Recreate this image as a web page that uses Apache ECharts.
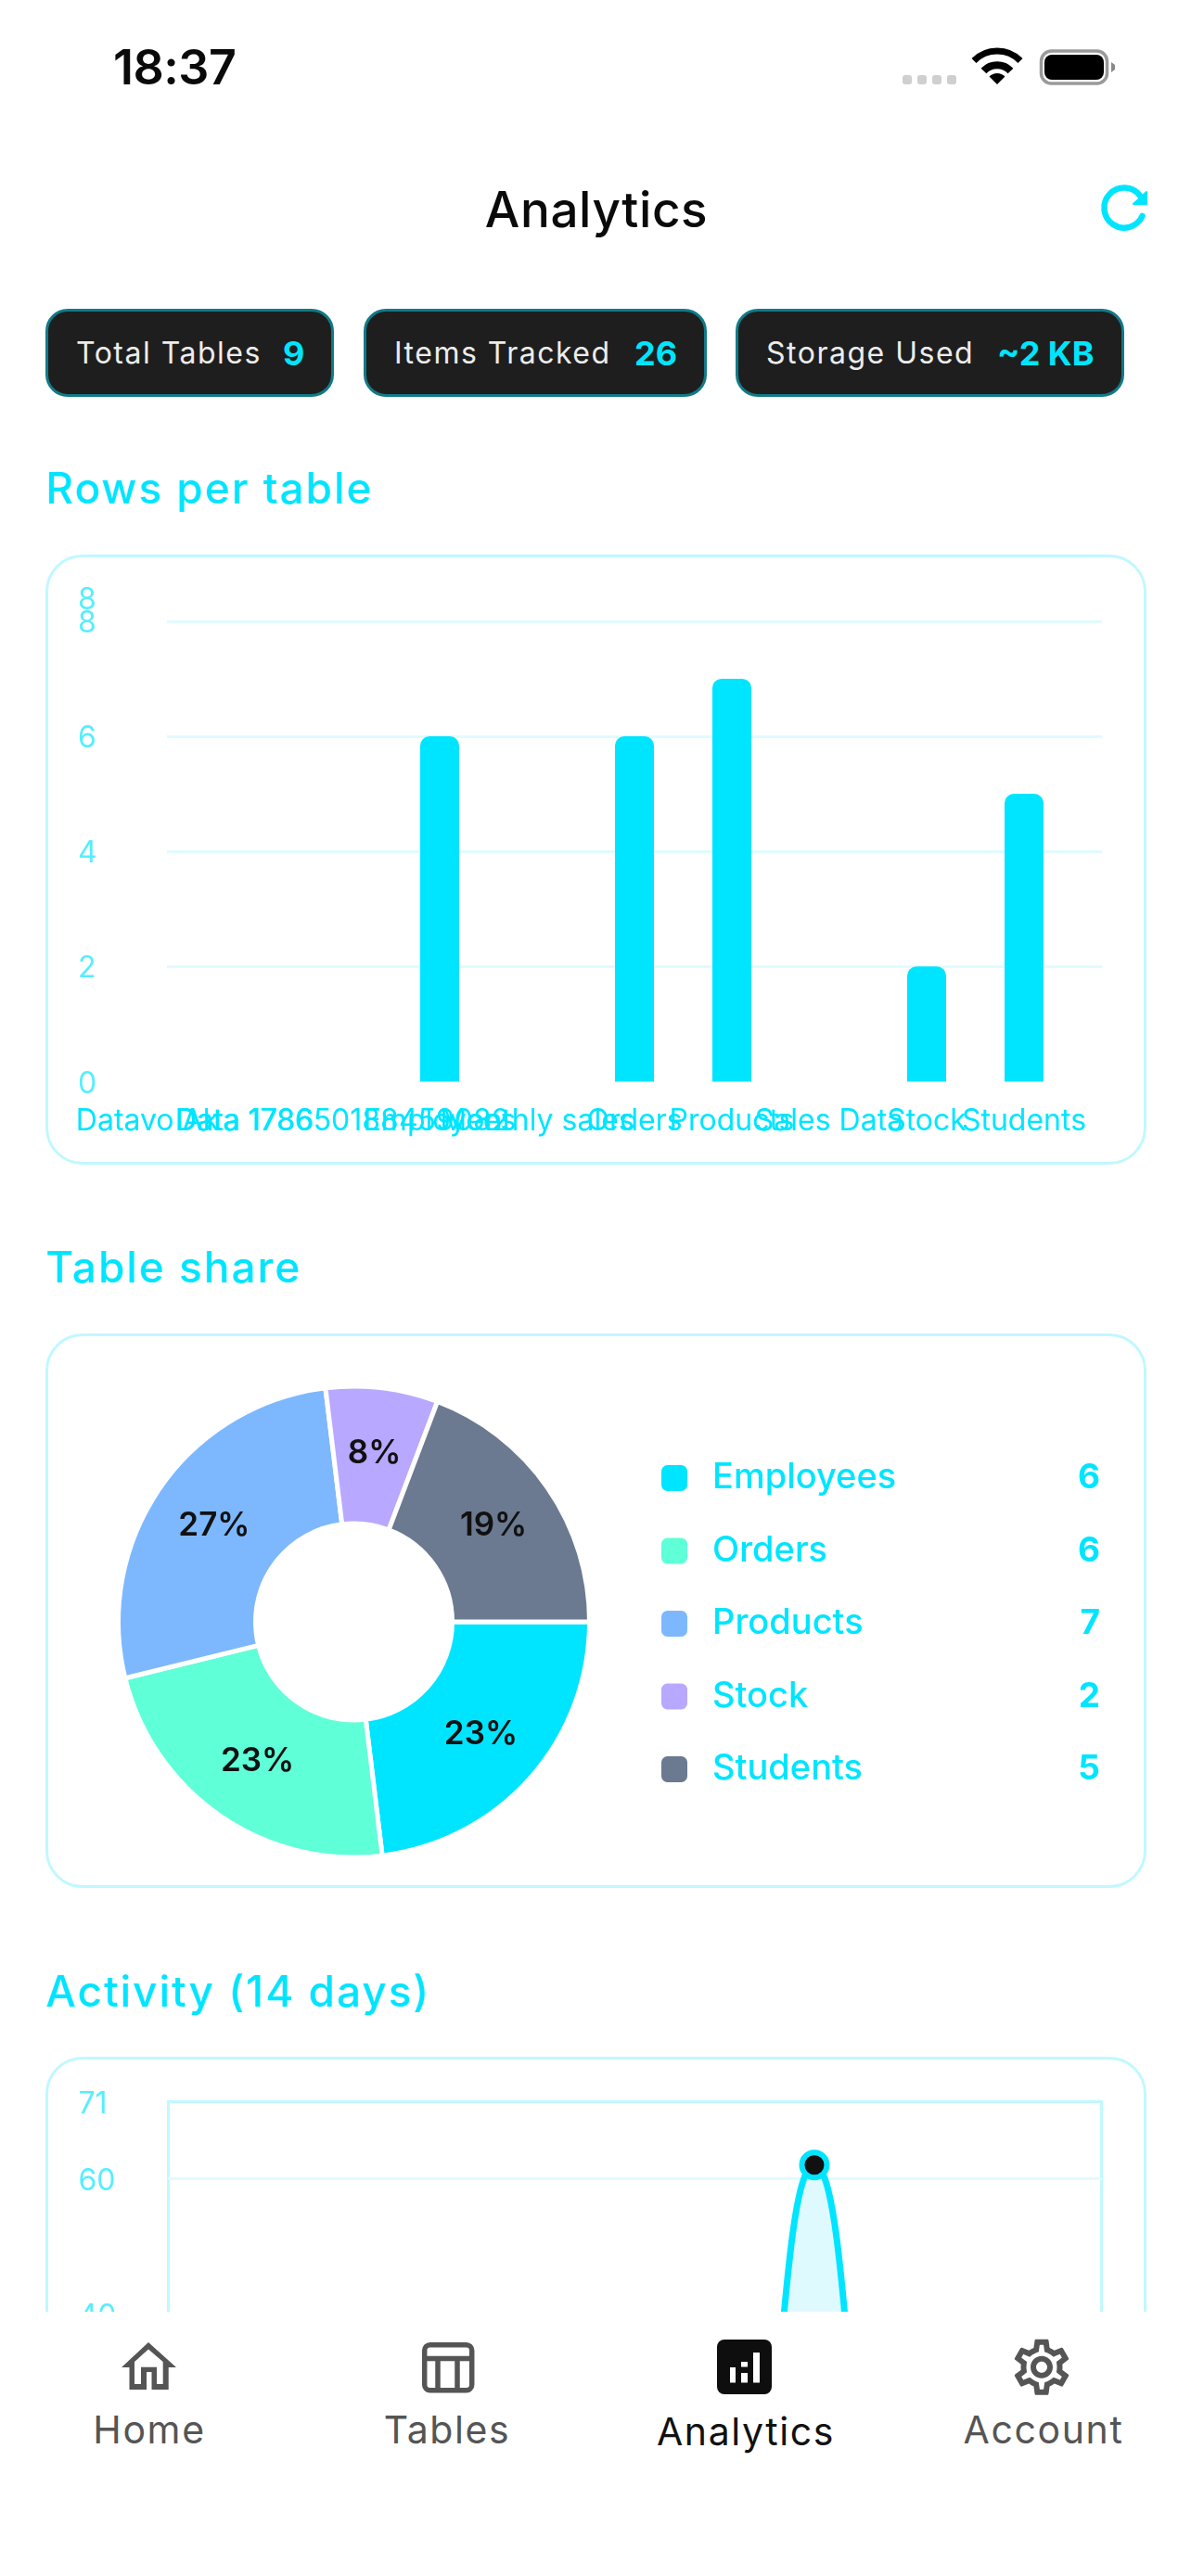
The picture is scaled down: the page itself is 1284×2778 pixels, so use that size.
<!DOCTYPE html>
<html>
<head>
<meta charset="utf-8">
<title>Analytics</title>
<script src="https://cdn.jsdelivr.net/npm/echarts@6/dist/echarts.min.js"></script>
<style>
  html, body { margin: 0; padding: 0; width: 1284px; height: 2778px; overflow: hidden; background: #fff; }
  body { position: relative; font-family: Inter, "Noto Sans", sans-serif; }
  .t { position: absolute; white-space: nowrap; }
  .chip { position: absolute; top: 333px; height: 95px; box-sizing: border-box; background: #1e1e1e; border: 3px solid #117a87; border-radius: 24px; }
  .chipLabel { font-size: 32px; line-height: 48px; top: 357px; color: #ececec; letter-spacing: 1.5px; }
  .chipValue { font-size: 36px; line-height: 48px; top: 357px; color: #00e5ff; font-weight: 700; }
  .section { left: 49px; font-size: 46px; line-height: 60px; font-weight: 500; color: #00e5ff; letter-spacing: 1.95px; }
  .card { position: absolute; left: 49px; width: 1187px; box-sizing: border-box; border: 3px solid #c0f8ff; border-radius: 40px; }
  .chart { position: absolute; left: 49px; width: 1187px; }
  #tabbar { position: absolute; left: 0; top: 2493px; width: 1284px; height: 285px; background: #fff; }
  .tab { font-size: 41px; line-height: 50px; color: #555; transform: translateX(-50%); letter-spacing: 1.6px; }
  #icons { position: absolute; left: 0; top: 0; }
</style>
</head>
<body>
  <div class="t" style="left:122px;top:43px;font-size:52px;line-height:60px;font-weight:600;color:#0a0a0a;letter-spacing:-0.5px;">18:37</div>
  <div class="t" style="left:643px;top:196px;font-size:53px;line-height:60px;font-weight:500;color:#0a0a0a;letter-spacing:0.6px;transform:translateX(-50%);">Analytics</div>

  <div class="chip" style="left:49px;width:311px;"></div>
  <div class="chip" style="left:392px;width:370px;"></div>
  <div class="chip" style="left:793px;width:419px;"></div>
  <div class="t chipLabel" style="left:82px;">Total Tables</div>
  <div class="t chipValue" style="left:305px;">9</div>
  <div class="t chipLabel" style="left:425px;">Items Tracked</div>
  <div class="t chipValue" style="left:684px;">26</div>
  <div class="t chipLabel" style="left:826px;">Storage Used</div>
  <div class="t chipValue" style="left:1075px;">~2 KB</div>

  <div class="t section" style="top:496px;">Rows per table</div>
  <div class="card" style="top:598px;height:658px;"></div>
  <div class="chart" id="barChart" style="top:598px;height:658px;"></div>

  <div class="t section" style="top:1336px;">Table share</div>
  <div class="card" style="top:1438px;height:598px;"></div>
  <div class="chart" id="pieChart" style="top:1438px;height:598px;"></div>

  <div class="t section" style="top:2117px;">Activity (14 days)</div>
  <div class="card" style="top:2218px;height:700px;"></div>
  <div class="chart" id="lineChart" style="top:2218px;height:700px;"></div>

  <div id="tabbar"></div>
  <div class="t tab" style="left:161px;top:2595px;">Home</div>
  <div class="t tab" style="left:482px;top:2595px;">Tables</div>
  <div class="t tab" style="left:804px;top:2597px;color:#111;">Analytics</div>
  <div class="t tab" style="left:1125px;top:2595px;">Account</div>

  <svg id="icons" width="1284" height="2778" viewBox="0 0 1284 2778" xmlns="http://www.w3.org/2000/svg">
    <!-- status bar -->
    <g fill="#cfcfcf">
      <rect x="973" y="81" width="10" height="10" rx="3"/>
      <rect x="989" y="81" width="10" height="10" rx="3"/>
      <rect x="1005" y="81" width="10" height="10" rx="3"/>
      <rect x="1021" y="81" width="10" height="10" rx="3"/>
    </g>
    <g fill="none" stroke="#000">
      <path d="M1050 65.5 A35 35 0 0 1 1100 65.5" stroke-width="7"/>
      <path d="M1060.5 76.5 A20 20 0 0 1 1089.5 76.5" stroke-width="8"/>
    </g>
    <path d="M1075 91 L1066.5 82.5 A12 12 0 0 1 1083.5 82.5 Z" fill="#000"/>
    <rect x="1122.5" y="55" width="71" height="35" rx="11" fill="none" stroke="#9a9a9a" stroke-width="3.5"/>
    <rect x="1126" y="59" width="64" height="27" rx="8" fill="#000"/>
    <path d="M1198 67 L1202 70 V75 L1198 78 Z" fill="#888"/>
    <!-- refresh -->
    <path d="M1231.5 233 A21.5 21.5 0 1 1 1229 211" fill="none" stroke="#00e5ff" stroke-width="6.5" stroke-linecap="round"/>
    <path d="M1236 207 V220 H1222 Z" fill="#00e5ff" stroke="#00e5ff" stroke-width="2" stroke-linejoin="round"/>
    <!-- tab icons -->
    <path fill-rule="evenodd" fill="#555" d="M160 2526 L190 2553 H181.7 V2577 H163.5 V2558 H158 V2577 H139.5 V2553 H131 Z M160 2533.5 L145 2547 V2571 H152 V2552.7 H169 V2571 H175.7 V2547 Z"/>
    <g fill="none" stroke="#555" stroke-width="5.5">
      <rect x="457.7" y="2528.7" width="51" height="49" rx="6"/>
      <path d="M458 2543.5 H509 M472 2543.5 V2578 M493 2543.5 V2578"/>
    </g>
    <rect x="773" y="2523" width="59" height="59" rx="8" fill="#0e0e0e"/>
    <g fill="#fff">
      <rect x="787" y="2553" width="6" height="16.5"/>
      <rect x="799" y="2547" width="7" height="5.5"/>
      <rect x="799" y="2559" width="7" height="10.5"/>
      <rect x="812" y="2537" width="7" height="32.5"/>
    </g>
    <path transform="translate(1087 2516.7) scale(3)" fill="#555" d="M19.43 12.98c.04-.32.07-.64.07-.98 0-.34-.03-.66-.07-.98l2.11-1.65c.19-.15.24-.42.12-.64l-2-3.46c-.09-.16-.26-.25-.44-.25-.06 0-.12.01-.17.03l-2.49 1c-.52-.4-1.08-.73-1.69-.98l-.38-2.65C14.46 2.18 14.25 2 14 2h-4c-.25 0-.46.18-.49.42l-.38 2.65c-.61.25-1.17.59-1.69.98l-2.49-1c-.06-.02-.12-.03-.18-.03-.17 0-.34.09-.43.25l-2 3.46c-.13.22-.07.49.12.64l2.11 1.65c-.04.32-.07.65-.07.98 0 .33.03.66.07.98l-2.11 1.65c-.19.15-.24.42-.12.64l2 3.46c.09.16.26.25.44.25.06 0 .12-.01.17-.03l2.49-1c.52.4 1.08.73 1.69.98l.38 2.65c.03.24.24.42.49.42h4c.25 0 .46-.18.49-.42l.38-2.65c.61-.25 1.17-.59 1.69-.98l2.49 1c.06.02.12.03.18.03.17 0 .34-.09.43-.25l2-3.46c.12-.22.07-.49-.12-.64l-2.11-1.65zm-1.98-1.71c.04.31.05.52.05.73 0 .21-.02.43-.05.73l-.14 1.13.89.7 1.08.84-.7 1.21-1.27-.51-1.04-.42-.9.68c-.43.32-.84.56-1.25.73l-1.06.43-.16 1.13-.2 1.35h-1.4l-.19-1.35-.16-1.13-1.06-.43c-.43-.18-.83-.41-1.23-.71l-.91-.7-1.06.43-1.27.51-.7-1.21 1.08-.84.89-.7-.14-1.13c-.03-.31-.05-.54-.05-.74s.02-.43.05-.73l.14-1.13-.89-.7-1.08-.84.7-1.21 1.27.51 1.04.42.9-.68c.43-.32.84-.56 1.25-.73l1.06-.43.16-1.13.2-1.35h1.39l.19 1.35.16 1.13 1.06.43c.43.18.83.41 1.23.71l.91.7 1.06-.43 1.27-.51.7 1.21-1.07.85-.89.7.14 1.13zM12 8c-2.21 0-4 1.79-4 4s1.79 4 4 4 4-1.79 4-4-1.79-4-4-4zm0 6c-1.1 0-2-.9-2-2s.9-2 2-2 2 .9 2 2-.9 2-2 2z"/>
  </svg>

<script>
// rows per table
var barCategories = ['Datavo Ak', 'Data 1786', 'Data 178650188459082', 'Employees', 'Monthly sales', 'Orders', 'Products', 'Sales Data', 'Stock', 'Students'];
var barValues = [0, 0, 0, 6, 0, 6, 7, 0, 2, 5];
var barAxisMax = 8.4;
var barTicks = [0, 2, 4, 6, 8];

// table share
var pieNames = ['Employees', 'Orders', 'Products', 'Stock', 'Students'];
var pieValues = [6, 6, 7, 2, 5];
var pieColors = ['#00e5ff', '#5fffd7', '#7db8ff', '#b9a8ff', '#6b7a90'];

// activity, only the peak is visible above the tab bar
var activityDays = ['1', '2', '3', '4', '5', '6', '7', '8', '9', '10', '11', '12', '13', '14'];
var activityValues = [0, 0, 0, 0, 0, 0, 0, 0, 0, 62, 0, 0, 0, 0];
var activityAxisMax = 71.3;

var cyan = '#00e5ff';
var axisCyan = '#55eeff';
var gridCyan = '#e0fbff';
var fontName = 'Inter';

function roundLabel(v) {
  return String(Math.round(v));
}

function yLabel(margin) {
  return { margin: margin, align: 'left', verticalAlign: 'top', lineHeight: 5, color: axisCyan, fontSize: 32, fontFamily: fontName, showMaxLabel: true, formatter: roundLabel };
}

var barChart = echarts.init(document.getElementById('barChart'));
var barLabel = yLabel(96);
barLabel.customValues = barTicks;
var barMaxLabel = yLabel(96);
barMaxLabel.customValues = [barAxisMax];
barChart.setOption({
  animation: false,
  grid: [
    { left: 131, right: 48, top: 47, height: 521.5 },
    { left: 57.5, width: 1050, top: 47, height: 521.5 }
  ],
  xAxis: [
    { gridIndex: 0, type: 'value', show: false },
    {
      gridIndex: 1,
      type: 'category',
      data: barCategories,
      axisLine: { show: false },
      axisTick: { show: false },
      axisLabel: { interval: 0, margin: 27, color: cyan, fontSize: 32, fontFamily: fontName }
    }
  ],
  yAxis: [
    {
      gridIndex: 0,
      type: 'value',
      min: 0,
      max: barAxisMax,
      interval: 2,
      axisLine: { show: false },
      axisTick: { show: false },
      axisLabel: barLabel,
      splitLine: { showMaxLine: false, showMinLine: false, lineStyle: { color: gridCyan, width: 3 } }
    },
    { gridIndex: 1, type: 'value', min: 0, max: barAxisMax, show: false, splitLine: { show: false } },
    // the top of the scale has its own label, close above the 8
    {
      gridIndex: 0,
      type: 'value',
      position: 'left',
      min: 0,
      max: barAxisMax,
      axisLine: { show: false },
      axisTick: { show: false },
      axisLabel: barMaxLabel,
      splitLine: { show: false }
    }
  ],
  series: [{
    type: 'bar',
    xAxisIndex: 1,
    yAxisIndex: 1,
    data: barValues,
    barWidth: 42,
    itemStyle: { color: cyan, borderRadius: [10, 10, 0, 0] }
  }]
});

var pieData = [];
for (var i = 0; i < pieNames.length; i++) {
  pieData.push({ name: pieNames[i], value: pieValues[i], itemStyle: { color: pieColors[i] } });
}

var pieChart = echarts.init(document.getElementById('pieChart'));
pieChart.setOption({
  animation: false,
  legend: {
    orient: 'vertical',
    left: 662,
    top: 137,
    padding: 0,
    itemWidth: 30,
    itemHeight: 30,
    itemGap: 40.5,
    icon: 'roundRect',
    selectedMode: false,
    data: pieNames,
    formatter: function (name) {
      return '{n|' + name + '}{v|' + pieValues[pieNames.indexOf(name)] + '}';
    },
    textStyle: {
      rich: {
        n: { width: 358, lineHeight: 38, padding: [0, 0, 0, 21], color: cyan, fontSize: 38, fontWeight: 500, fontFamily: fontName },
        v: { width: 60, lineHeight: 38, align: 'right', color: cyan, fontSize: 37, fontWeight: 700, fontFamily: fontName }
      }
    }
  },
  series: [{
    type: 'pie',
    center: [332.5, 311],
    radius: [106, 254],
    startAngle: 0,
    clockwise: true,
    data: pieData,
    itemStyle: { borderColor: '#fff', borderWidth: 5 },
    label: {
      position: 'inside',
      color: '#111',
      fontSize: 35,
      fontWeight: 600,
      fontFamily: fontName,
      formatter: function (p) { return Math.round(p.percent) + '%'; }
    },
    labelLine: { show: false }
  }]
});

var lineChart = echarts.init(document.getElementById('lineChart'));
lineChart.setOption({
  animation: false,
  grid: { left: 132.5, right: 48.5, top: 48.5, height: 523.5, show: true, borderColor: '#c0f8ff', borderWidth: 3 },
  xAxis: {
    type: 'category',
    boundaryGap: false,
    data: activityDays,
    axisLine: { show: false },
    axisTick: { show: false },
    axisLabel: { show: false }
  },
  yAxis: {
    type: 'value',
    min: 0,
    max: activityAxisMax,
    interval: 20,
    axisLine: { show: false },
    axisTick: { show: false },
    axisLabel: yLabel(97),
    splitLine: { showMaxLine: false, lineStyle: { color: gridCyan, width: 3 } }
  },
  series: [{
    type: 'line',
    data: activityValues,
    smooth: 0.5,
    smoothMonotone: 'x',
    showAllSymbol: true,
    symbol: 'circle',
    symbolSize: 27,
    lineStyle: { color: cyan, width: 7 },
    itemStyle: { color: '#111', borderColor: cyan, borderWidth: 6 },
    areaStyle: { color: '#dffaff', opacity: 1 }
  }]
});
</script>
</body>
</html>
